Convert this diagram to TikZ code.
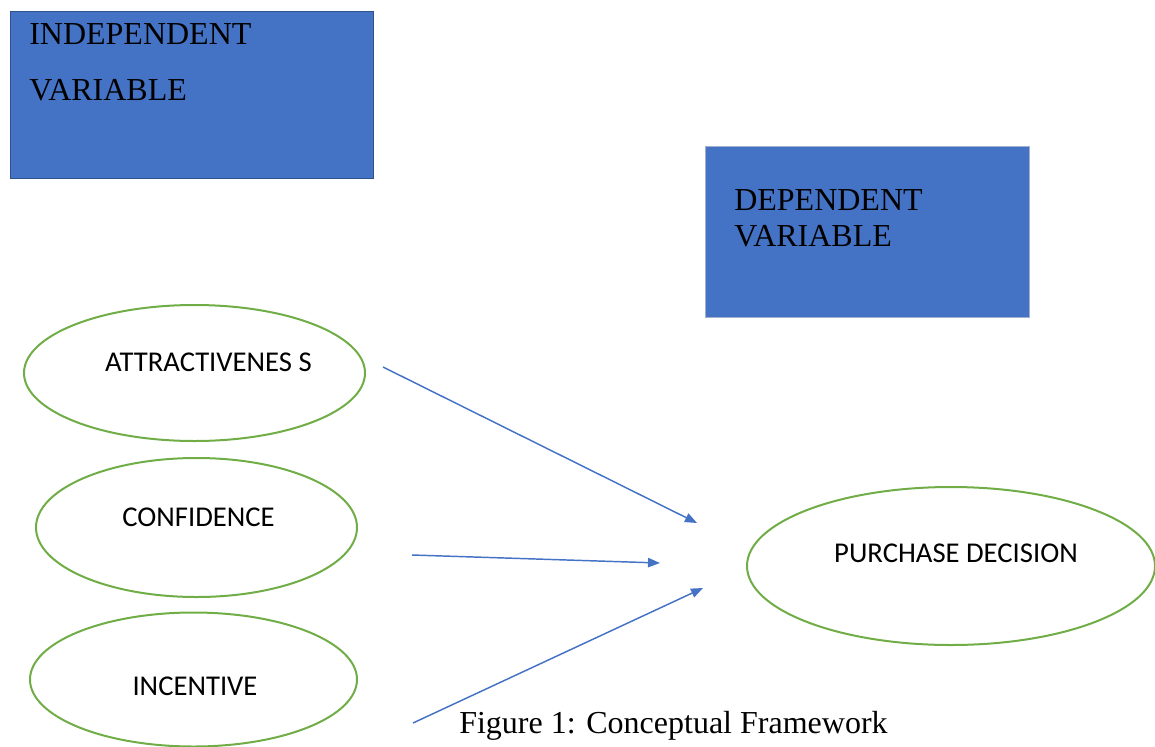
\documentclass[tikz,border=0pt]{standalone}
\usepackage{fontspec}
\setmainfont{Liberation Serif}
\newfontfamily\calibri{Carlito}
\usetikzlibrary{shapes.geometric,arrows.meta}
\definecolor{boxblue}{HTML}{4472C4}
\definecolor{boxedge}{HTML}{2F528F}
\definecolor{ovalgreen}{HTML}{70AD47}

\begin{document}
\begin{tikzpicture}[x=.75pt,y=-.75pt,
  varbox/.style={draw=boxedge,fill=boxblue,line width=.75pt,inner sep=0pt},
  boxtext/.style={anchor=base west,inner sep=0pt,font=\fontsize{24}{28}\selectfont},
  oval/.style={ellipse,draw=ovalgreen,line width=1.5pt,inner sep=0pt},
  ovaltext/.style={inner sep=0pt,font=\calibri\fontsize{21.5}{26}\selectfont},
  link/.style={draw=boxblue,line width=1.1pt,-{Triangle[length=9pt,width=7pt]}}]
\useasboundingbox (0,0) rectangle (1155,746);
\node[varbox,minimum width=272.25pt,minimum height=125.25pt] (indep) at (191.5,94.5) {};
\node[boxtext] (indep1) at (29,44) {INDEPENDENT};
\node[boxtext] (indep2) at (29,100) {VARIABLE};
\node[varbox,draw=boxedge!45,minimum width=243pt,minimum height=128.25pt] (dep) at (867,231.5) {};
\node[boxtext] (dep1) at (734,210) {DEPENDENT};
\node[boxtext] (dep2) at (734,246) {VARIABLE};
\node[oval,minimum width=255.75pt,minimum height=102pt] (attr) at (194.5,373) {};
\node[ovaltext] (attrtxt) at (208.5,362) {ATTRACTIVENES S};
\node[oval,minimum width=240.75pt,minimum height=104.25pt] (conf) at (196.5,527.5) {};
\node[ovaltext] (conftxt) at (198.5,517) {CONFIDENCE};
\node[oval,minimum width=245.25pt,minimum height=100.5pt] (inc) at (193.5,679.5) {};
\node[ovaltext] (inctxt) at (195,686) {INCENTIVE};
\node[oval,minimum width=306pt,minimum height=118.5pt] (purch) at (951,566) {};
\node[ovaltext] (purchtxt) at (956,553.5) {PURCHASE DECISION};
\coordinate (attrout) at (383,367);
\coordinate (confout) at (412,555);
\coordinate (incout) at (413,723);
\coordinate (attrin) at (697,523);
\coordinate (confin) at (660,563);
\coordinate (incin) at (703,588);
\draw[link] (attrout) -- (attrin);
\draw[link] (confout) -- (confin);
\draw[link] (incout) -- (incin);
\node[boxtext] (caption) at (459,733) {Figure 1: Conceptual Framework};
\end{tikzpicture}
\end{document}
